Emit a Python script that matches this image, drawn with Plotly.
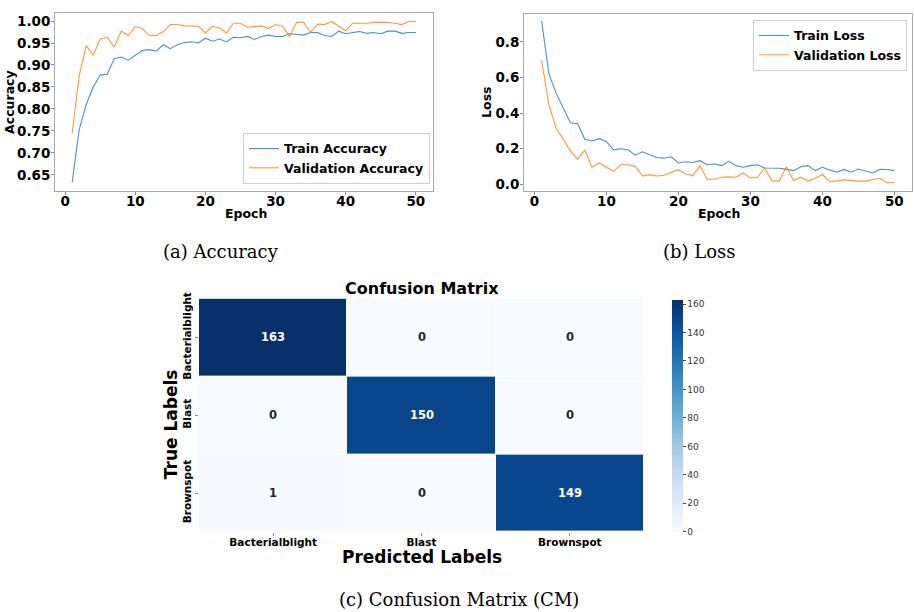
import plotly.graph_objects as go
import plotly.colors as pc

epochs = list(range(1, 51))
train_acc = [0.633, 0.753, 0.810, 0.850, 0.877, 0.879, 0.914, 0.918, 0.911, 0.922,
             0.933, 0.935, 0.932, 0.946, 0.937, 0.946, 0.951, 0.953, 0.950, 0.961,
             0.954, 0.959, 0.953, 0.963, 0.962, 0.965, 0.958, 0.965, 0.968, 0.965,
             0.965, 0.971, 0.969, 0.968, 0.974, 0.974, 0.967, 0.965, 0.977, 0.971,
             0.974, 0.976, 0.972, 0.974, 0.971, 0.977, 0.977, 0.972, 0.974, 0.974]
val_acc = [0.744, 0.875, 0.944, 0.922, 0.959, 0.963, 0.941, 0.977, 0.967, 0.987,
           0.983, 0.967, 0.967, 0.976, 0.992, 0.992, 0.989, 0.988, 0.988, 0.973,
           0.988, 0.984, 0.973, 0.995, 0.995, 0.986, 0.988, 0.989, 0.983, 0.992,
           0.988, 0.965, 0.997, 0.997, 0.974, 0.993, 0.992, 0.999, 0.988, 0.978,
           0.995, 0.995, 0.995, 0.997, 0.997, 0.997, 0.995, 0.992, 0.999, 0.999]
train_loss = [0.918, 0.623, 0.512, 0.428, 0.345, 0.340, 0.252, 0.243, 0.256, 0.239,
              0.193, 0.199, 0.193, 0.163, 0.182, 0.165, 0.150, 0.146, 0.154, 0.119,
              0.126, 0.122, 0.132, 0.109, 0.113, 0.104, 0.128, 0.104, 0.095, 0.104,
              0.109, 0.091, 0.091, 0.089, 0.083, 0.076, 0.098, 0.104, 0.076, 0.095,
              0.080, 0.067, 0.083, 0.067, 0.085, 0.076, 0.063, 0.083, 0.082, 0.076]
val_loss = [0.698, 0.447, 0.317, 0.252, 0.187, 0.141, 0.191, 0.095, 0.119, 0.095,
            0.072, 0.109, 0.109, 0.100, 0.046, 0.052, 0.046, 0.050, 0.067, 0.081,
            0.057, 0.048, 0.104, 0.026, 0.029, 0.039, 0.041, 0.039, 0.063, 0.035,
            0.039, 0.091, 0.017, 0.017, 0.098, 0.020, 0.039, 0.017, 0.033, 0.054,
            0.015, 0.017, 0.024, 0.020, 0.017, 0.017, 0.026, 0.033, 0.007, 0.009]

classes = ["Bacterialblight", "Blast", "Brownspot"]
cm = [[163, 0, 0],
      [0, 150, 0],
      [1, 0, 149]]

acc_ticks = [0.65, 0.70, 0.75, 0.80, 0.85, 0.90, 0.95, 1.00]
loss_ticks = [0.0, 0.2, 0.4, 0.6, 0.8]
epoch_ticks = [0, 10, 20, 30, 40, 50]
cbar_ticks = [0, 20, 40, 60, 80, 100, 120, 140, 160]

W, H = 914, 612
BLUE = "#1f77b4"
ORANGE = "#ff7f0e"
BOLD = dict(family="DejaVu Sans", weight="bold", color="black")


def px_x(p):
    return p / W


def px_y(p):
    return 1 - p / H


fig = go.Figure()

LW = 1.1
OP = 0.8
fig.add_trace(go.Scatter(x=epochs, y=train_acc, mode="lines", name="Train Accuracy", opacity=OP,
                         line=dict(color=BLUE, width=LW), xaxis="x", yaxis="y", legend="legend"))
fig.add_trace(go.Scatter(x=epochs, y=val_acc, mode="lines", name="Validation Accuracy", opacity=OP,
                         line=dict(color=ORANGE, width=LW), xaxis="x", yaxis="y", legend="legend"))
fig.add_trace(go.Scatter(x=epochs, y=train_loss, mode="lines", name="Train Loss", opacity=OP,
                         line=dict(color=BLUE, width=LW), xaxis="x2", yaxis="y2", legend="legend2"))
fig.add_trace(go.Scatter(x=epochs, y=val_loss, mode="lines", name="Validation Loss", opacity=OP,
                         line=dict(color=ORANGE, width=LW), xaxis="x2", yaxis="y2", legend="legend2"))

zmax = max(max(r) for r in cm)
fig.add_trace(go.Heatmap(
    z=cm, x=classes, y=classes, xaxis="x3", yaxis="y3",
    colorscale=pc.sequential.Blues, zmin=0, zmax=zmax, xgap=1, ygap=1,
    showlegend=False, hoverinfo="skip",
    colorbar=dict(x=px_x(672), xanchor="left", thickness=11, xpad=0, ypad=0,
                  len=(532 - 297) / H, lenmode="fraction",
                  y=px_y((297 + 532) / 2), yanchor="middle",
                  tickvals=cbar_ticks, ticks="outside", ticklen=3, tickcolor="#444",
                  tickfont=dict(family="DejaVu Sans", size=9, color="#333"),
                  outlinewidth=0),
))

axis_common = dict(showline=True, mirror=True, linecolor="#aaaaaa", linewidth=1,
                   showgrid=False, zeroline=False, ticks="outside", ticklen=3,
                   tickcolor="#888", tickfont=dict(size=13.5, **BOLD))
xstand = dict(ticklabelstandoff=-5)
ystand = dict(ticklabelstandoff=-2)

fig.update_layout(
    width=W, height=H, margin=dict(l=0, r=0, t=0, b=0),
    paper_bgcolor="white", plot_bgcolor="white",
    xaxis=dict(domain=[px_x(55), px_x(433)], range=[-1.45, 52.45], tickvals=epoch_ticks,
               anchor="y", **axis_common, **xstand),
    yaxis=dict(domain=[px_y(187), px_y(7)], range=[0.6135, 1.0185], tickvals=acc_ticks,
               tickformat=".2f", anchor="x", **axis_common, **ystand),
    xaxis2=dict(domain=[px_x(524), px_x(912)], range=[-1.45, 52.45], tickvals=epoch_ticks,
                anchor="y2", **axis_common, **xstand),
    yaxis2=dict(domain=[px_y(187), px_y(8)], range=[-0.038, 0.958], tickvals=loss_ticks,
                tickformat=".1f", anchor="x2", **axis_common, **ystand),
    xaxis3=dict(domain=[px_x(199), px_x(644)], anchor="y3", showgrid=False, zeroline=False,
                ticks="outside", ticklen=3, tickcolor="#888", ticklabelstandoff=-3,
                tickfont=dict(size=10.5, **BOLD)),
    yaxis3=dict(domain=[px_y(532), px_y(296)], anchor="x3", autorange="reversed",
                showgrid=False, zeroline=False, ticks="outside", ticklen=3, tickcolor="#888",
                tickangle=-90, tickfont=dict(size=10.5, **BOLD)),
    legend=dict(xanchor="right", x=px_x(430), yanchor="bottom", y=px_y(180),
                bordercolor="#cccccc", borderwidth=1, bgcolor="white",
                font=dict(size=12.5, **BOLD), tracegroupgap=0),
    legend2=dict(xanchor="right", x=px_x(907), yanchor="top", y=px_y(14),
                 bordercolor="#cccccc", borderwidth=1, bgcolor="white",
                 font=dict(size=12.5, **BOLD), tracegroupgap=0),
)

ann = []


def text(x, y, s, size, angle=0, font=None, color="black"):
    f = dict(font or BOLD)
    f["size"] = size
    f["color"] = color
    ann.append(dict(x=px_x(x), y=px_y(y), xref="paper", yref="paper", text=s,
                    showarrow=False, textangle=angle, font=f,
                    xanchor="center", yanchor="middle"))


text(10, 97, "Accuracy", 12.5, -90)
text(246, 210, "Epoch", 12.5)
text(487, 97, "Loss", 12.5, -90)
text(719, 210, "Epoch", 12.5)
SERIF = dict(family="DejaVu Serif", color="black")
text(221, 248, "(a) Accuracy", 18, font=SERIF)
text(699, 248, "(b) Loss", 18, font=SERIF)
text(459, 600, "(c) Confusion Matrix (CM)", 18, font=SERIF)
text(422, 286, "Confusion Matrix", 16)
text(422, 557, "Predicted Labels", 17)
text(171, 423, "True Labels", 17, -90)

fig.update_layout(annotations=ann)

for i, row in enumerate(cm):
    for j, v in enumerate(row):
        fig.add_annotation(x=classes[j], y=classes[i], xref="x3", yref="y3", text=str(v),
                           showarrow=False,
                           font=dict(family="DejaVu Sans", weight="bold", size=11.5,
                                     color="white" if v > zmax / 2 else "#262626"))

fig.write_html("out.html")
